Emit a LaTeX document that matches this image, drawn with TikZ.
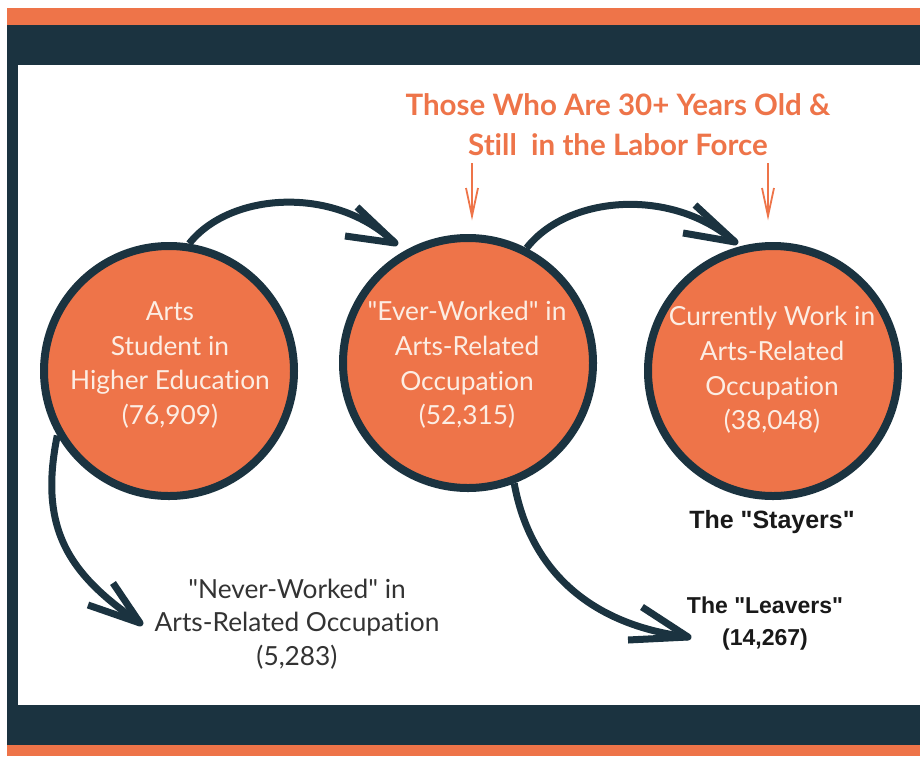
\documentclass[tikz,border=0pt]{standalone}
\usepackage{fontspec}
\setmainfont{Lato}[Ligatures={TeX,NoCommon}]
\newfontfamily\boldlabel{Liberation Sans}
\usetikzlibrary{calc}

\definecolor{navy}{HTML}{1B3340}
\definecolor{coral}{HTML}{EE7449}
\definecolor{cream}{HTML}{FCEDE3}
\definecolor{inkgrey}{HTML}{333333}

\tikzset{
  stage/.style={circle, draw=navy, fill=coral, line width=8pt,
                minimum size=250pt, inner sep=0pt},
  stagetext/.style={text=cream, align=center, font=\fontsize{26.3}{34.7}\selectfont},
  flow/.style={draw=navy, line width=7pt},
  flowhead/.style={flow, line join=round},
  headline/.style={text=coral, align=center, font=\bfseries\fontsize{29.5}{40}\selectfont},
  pointer/.style={draw=coral, line width=1.8pt},
  outcome/.style={text=black!90, align=center, font=\boldlabel\bfseries\fontsize{23}{32}\selectfont},
  sidetext/.style={text=inkgrey, align=center, font=\fontsize{26.3}{33.5}\selectfont}
}

\begin{document}
\begin{tikzpicture}[x=1pt, y=-1pt]
  % page frame
  \useasboundingbox (0,0) rectangle (920,756);
  \fill[white] (0,0) rectangle (920,756);
  \fill[coral] (7,8) rectangle (920,25);
  \fill[navy] (7,25) rectangle (920,65);
  \fill[navy] (7,25) rectangle (18,745);
  \fill[navy] (7,705) rectangle (920,745);
  \fill[coral] (7,745) rectangle (920,756);
  \fill[white] (18,65) rectangle (918,705);

  % headline
  \node[headline] (head) at (618,125) {Those Who Are 30+ Years Old \&\\Still\ \ in the Labor Force};
  \coordinate (p1s) at (472,163);
  \coordinate (p1e) at (472,216);
  \coordinate (p2s) at (768,163);
  \coordinate (p2e) at (768,216);
  \draw[pointer] (p1s) -- (p1e);
  \draw[pointer] ($(p1e)+(-6,-28)$) -- (p1e) -- ($(p1e)+(6,-28)$);
  \draw[pointer] (p2s) -- (p2e);
  \draw[pointer] ($(p2e)+(-6,-28)$) -- (p2e) -- ($(p2e)+(6,-28)$);

  % stages
  \node[stage] (c1) at (169,371) {};
  \node[stage] (c2) at (468,363) {};
  \node[stage] (c3) at (773,371) {};
  \node[stagetext] (t1) at (170,365) {Arts\\Student in\\Higher Education\\(76,909)};
  \node[stagetext] (t2) at (467,365) {\textquotedbl Ever-Worked\textquotedbl{} in\\Arts-Related\\Occupation\\(52,315)};
  \node[stagetext] (t3) at (772,370) {Currently Work in\\Arts-Related\\Occupation\\(38,048)};

  % outcomes
  \node[outcome, font=\boldlabel\bfseries\fontsize{25}{32}\selectfont] (stay) at (772,522) {The "Stayers"};
  \node[outcome] (leave) at (765,624) {The "Leavers"\\(14,267)};
  \node[sidetext] (never) at (297,624) {\textquotedbl Never-Worked\textquotedbl{} in\\Arts-Related Occupation\\(5,283)};

  % arrow tips
  \coordinate (a2) at (395,243);
  \coordinate (a3) at (735,242);
  \coordinate (an) at (140,623);
  \coordinate (al) at (688,637);

  % flows between stages
  \draw[flow] (c1.81) .. controls (230,192) and (335,185) .. (a2);
  \draw[flowhead] (357,207) -- (a2) -- (345,236);
  \draw[flow] (c2.63) .. controls (568,195) and (672,187) .. (a3);
  \draw[flowhead] (695,205) -- (a3) -- (683,233);
  \draw[flow] (c1.210) .. controls (38,530) and (70,575) .. (an);
  \draw[flowhead] (113,583) -- (an) -- (88,605);
  \draw[flow] (c2.291) .. controls (530,570) and (590,625) .. (al);
  \draw[flowhead] (642,607) -- (al) -- (628,640);
\end{tikzpicture}
\end{document}
